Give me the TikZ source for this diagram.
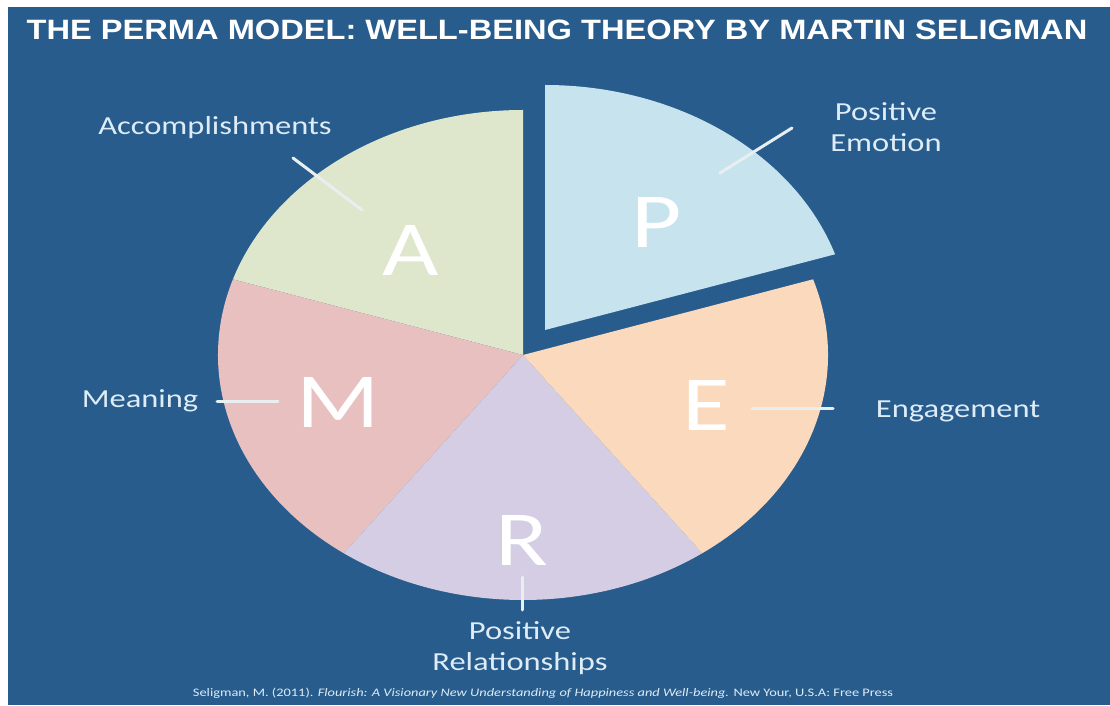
\documentclass[tikz,border=0pt]{standalone}
\usepackage{fontspec}
\setmainfont[FakeStretch=1.25]{Carlito}
\newfontfamily\titlefont[FakeStretch=1.165]{Liberation Sans}
\usepackage{tikz}
\usetikzlibrary{positioning}

\definecolor{slideblue}{HTML}{275C8D}
\definecolor{labeltext}{HTML}{DDECF6}
\definecolor{pointerwhite}{HTML}{E9EFF1}
\definecolor{posblue}{HTML}{C6E3EE}
\definecolor{engpeach}{HTML}{FBD9BC}
\definecolor{relviolet}{HTML}{D4CDE3}
\definecolor{meanpink}{HTML}{E9C0C0}
\definecolor{accgreen}{HTML}{DEE7CC}

\begin{document}
\begin{tikzpicture}[
    x=1pt, y=1pt,
    letter/.style={text=white, inner sep=0pt, font=\fontsize{78}{78}\selectfont},
    caption/.style={text=labeltext, inner sep=0pt, align=center, font=\fontsize{26}{31}\selectfont},
    pointer/.style={draw=pointerwhite, line width=3pt, line cap=round}
]
    % Slide background
    \fill[white] (0,0) rectangle (1110,705);
    \fill[slideblue] (8,0) rectangle (1110,698);
    \useasboundingbox (0,0) rectangle (1110,705);

    \node[text=white, font=\titlefont\bfseries\fontsize{28}{30}\selectfont] (title) at (557,675)
        {THE PERMA MODEL: WELL-BEING THEORY BY MARTIN SELIGMAN};

    % Pie slices
    \coordinate (ctr) at (523,350);
    \coordinate (pvertex) at (545,375);
    \foreach \start/\col in {90/accgreen, 162/meanpink, 234/relviolet, 306/engpeach}
        \fill[\col] (ctr) -- ++(\start:305 and 245)
            arc[start angle=\start, delta angle=72, x radius=305, y radius=245] -- cycle;
    % Positive emotion slice, pulled out
    \fill[posblue] (pvertex) -- ++(18:305 and 245)
        arc[start angle=18, end angle=90, x radius=305, y radius=245] -- cycle;

    % Slice letters
    \node[letter] (P) at (657,483) {P};
    \node[letter] (E) at (706,300) {E};
    \node[letter] (R) at (522,165) {R};
    \node[letter] (M) at (338,303) {M};
    \node[letter] (A) at (411,455) {A};

    % Labels
    \node[caption] (emotion) at (886,578) {Positive\\Emotion};
    \node[caption] (engage) at (958,294) {Engagement};
    \node[caption] (relation) at (520,57) {Positive\\Relationships};
    \node[caption] (meaning) at (140,304) {Meaning};
    \node[caption] (accomp) at (215,577) {Accomplishments};

    % Pointer lines
    \coordinate (pin) at (720,532);  \coordinate (pout) at (792,577);
    \coordinate (ein) at (752,297);  \coordinate (eout) at (833,297);
    \coordinate (rin) at (522,128);  \coordinate (rout) at (522,95);
    \coordinate (min) at (278,304);  \coordinate (mout) at (217,304);
    \coordinate (ain) at (362,495);  \coordinate (aout) at (293,547);
    \draw[pointer] (pin) -- (pout);
    \draw[pointer] (ein) -- (eout);
    \draw[pointer] (rin) -- (rout);
    \draw[pointer] (min) -- (mout);
    \draw[pointer] (ain) -- (aout);

    % Reference
    \node[text=labeltext, font=\fontsize{11.5}{13}\selectfont] (cite) at (543,12)
        {Seligman, M. (2011). \textit{Flourish: A Visionary New Understanding of Happiness and Well-being.} New Your, U.S.A: Free Press};
\end{tikzpicture}
\end{document}
